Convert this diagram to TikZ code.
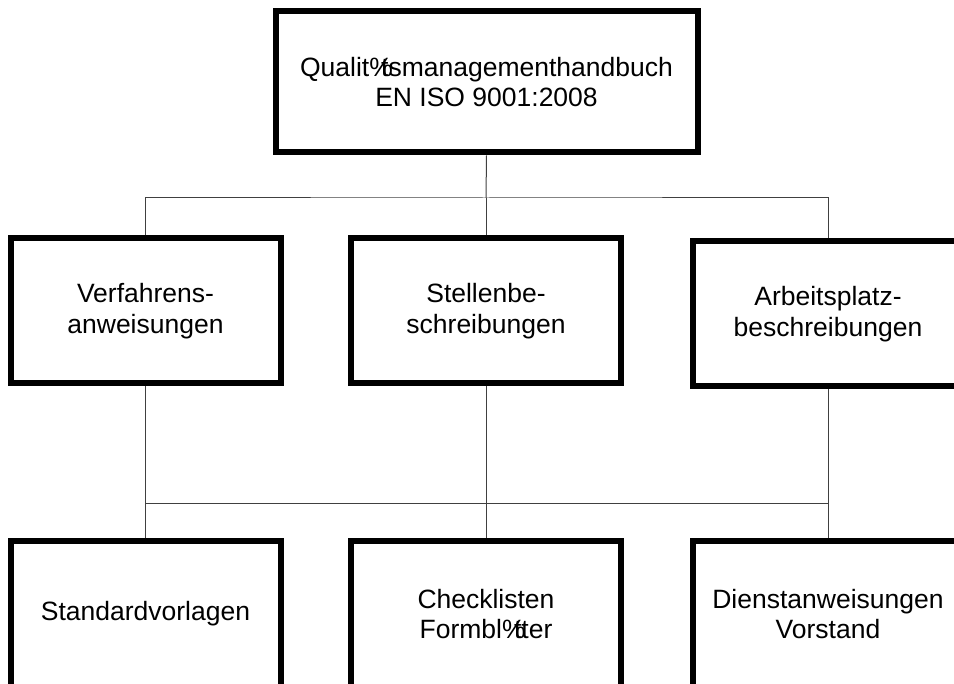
\documentclass[tikz,border=0pt]{standalone}
\usepackage{fontspec}
\setmainfont{Liberation Sans}
\newcommand{\garbled}{\makebox[0.45em][l]{\%}}

\begin{document}
\begin{tikzpicture}[x=1pt, y=-1pt,
  every node/.style = {shape=rectangle, draw, line width=6pt, align=center,
    minimum width=270pt, minimum height=145pt, inner sep=0pt,
    font=\fontsize{26.5}{30.5}\selectfont},
  link/.style = {draw=black!75, line width=1pt}]
  \useasboundingbox (0,0) rectangle (954,684);
  \clip (0,0) rectangle (954,684);
  \node[minimum width=422pt, minimum height=141pt] (handbuch) at (486.5,82)
    {Qualit\garbled tsmanagementhandbuch\\EN ISO 9001:2008};
  \node (verfahren) at (145.5,311) {Verfahrens-\\anweisungen};
  \node (stellen) at (486,311) {Stellenbe-\\schreibungen};
  \node (arbeitsplatz) at (828,314) {Arbeitsplatz-\\beschreibungen};
  \node (vorlagen) at (145.5,614) {Standardvorlagen};
  \node (checklisten) at (486,614) {Checklisten\\Formbl\garbled tter};
  \node (dienst) at (828,614) {Dienstanweisungen\\Vorstand};
  \coordinate (bus1) at (486,198);
  \coordinate (bus2) at (486,504);
  % upper level
  \draw[link] (handbuch.south) -- (bus1);
  \draw[link] (verfahren.north) |- (bus1) -| (arbeitsplatz.north);
  \draw[link] (stellen.north) -- (bus1);
  % lower level
  \draw[link] (verfahren.south) -- (vorlagen.north);
  \draw[link] (stellen.south) -- (checklisten.north);
  \draw[link] (arbeitsplatz.south) -- (dienst.north);
  \draw[link] (verfahren.south |- bus2) -- (arbeitsplatz.south |- bus2);
\end{tikzpicture}
\end{document}
